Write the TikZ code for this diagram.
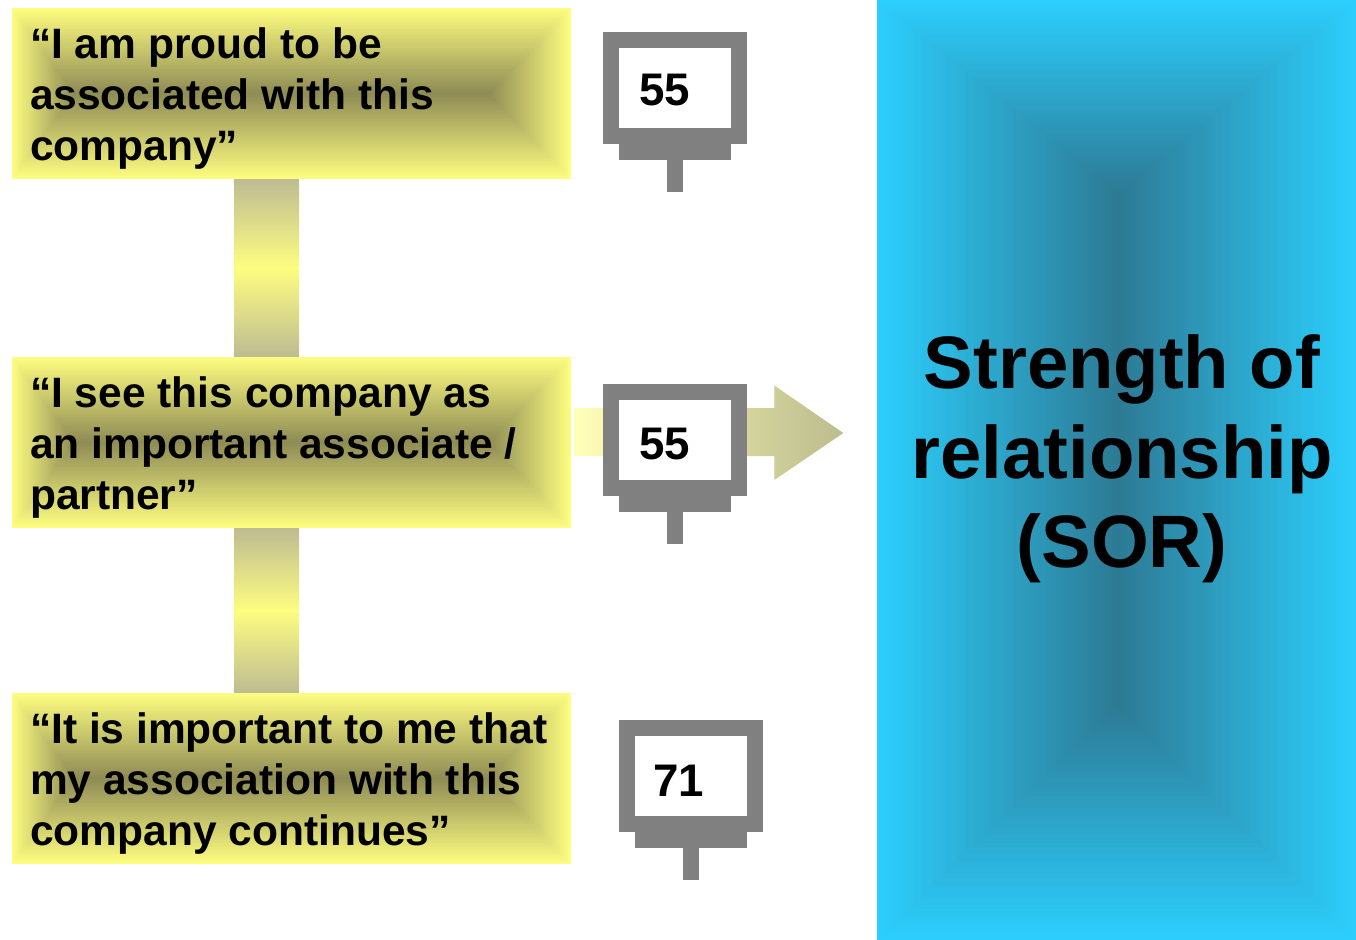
\documentclass[tikz,border=0pt]{standalone}
\usepackage{fontspec}
\setmainfont{Liberation Sans}
\usepackage{xcolor}
\usepackage{tikz}
\usetikzlibrary{arrows.meta, positioning, calc}
\definecolor{boxlight}{HTML}{FDFD80}
\definecolor{boxdark}{HTML}{8E8B55}
\definecolor{barend}{HTML}{BDBC92}
\definecolor{panellight}{HTML}{2CCEFD}
\definecolor{paneldark}{HTML}{2D7A94}
\definecolor{arrowstart}{HTML}{FFFFB8}
\definecolor{arrowend}{HTML}{BCBC8E}
\definecolor{gaugegray}{HTML}{808080}
% nested rectangles: insets left/right/top/bottom, inner colour, outer colour
\newcommand{\gradsteps}[6]{%
  \foreach \i in {0,...,60} {
    \pgfmathsetmacro{\stepfrac}{\i/60}
    \pgfmathsetmacro{\steppct}{100*\stepfrac}
    \fill[#5!\steppct!#6]
      ($(path picture bounding box.north west)+(#1*\stepfrac,#3*\stepfrac)$) rectangle
      ($(path picture bounding box.south east)+(-#2*\stepfrac,-#4*\stepfrac)$);
  }}
\tikzset{
  stmtbox/.style={minimum width=11.18cm, minimum height=3.42cm, inner xsep=0.36cm,
    inner ysep=0pt, text width=10.46cm, align=flush left, font=\fontsize{24.2}{28.9}\selectfont\bfseries,
    execute at begin node={\rule{0pt}{23pt}},
    path picture={\gradsteps{62}{82}{85}{85}{boxdark}{boxlight}}},
  sorbox/.style={minimum width=9.58cm, minimum height=18.8cm, inner sep=0pt,
    path picture={\gradsteps{240}{236}{192}{233}{paneldark}{panellight}}},
  sorlabel/.style={align=center, inner sep=0pt, font=\fontsize{42.3}{51}\selectfont\bfseries},
  linkbar/.style={top color=barend, bottom color=barend, middle color=boxlight},
  scorenum/.style={font=\fontsize{26}{30}\selectfont\bfseries}
}
\begin{document}
\begin{tikzpicture}[x=0.02cm, y=-0.02cm]
        \useasboundingbox (0,0) rectangle (1356,940);
        % statements
        \node[stmtbox] (stmtA) at (291.5,93.5)
          {“I am proud to be\\associated with this\\company”};
        \node[stmtbox] (stmtB) at (291.5,442.5)
          {“I see this company as\\an important associate /\\partner”};
        \node[stmtbox] (stmtC) at (291.5,778.5)
          {“It is important to me that\\my association with this\\company continues”};
        \node[sorbox] (sor) at (1116.5,470) {};
        \node[sorlabel] (sortext) at (1122,459) {Strength of\\relationship\\(SOR)};
        % bars between the statements
        \shade[linkbar] ([xshift=-1.15cm]stmtA.south) rectangle ([xshift=0.15cm]stmtB.north);
        \shade[linkbar] ([xshift=-1.15cm]stmtB.south) rectangle ([xshift=0.15cm]stmtC.north);
        % arrow behind the middle gauge
        \shade[left color=arrowstart, right color=arrowend]
          ($(stmtB.east)+(3,-34.5)$) -- ($(stmtB.east)+(203,-34.5)$)
          -- ($(stmtB.east)+(203,-57)$) -- ($(stmtB.east)+(272,-9.5)$)
          -- ($(stmtB.east)+(203,37.5)$) -- ($(stmtB.east)+(203,13.5)$)
          -- ($(stmtB.east)+(3,13.5)$) -- cycle;
        % gauges
        \foreach \gx/\gy/\nx/\ny/\gval/\gname in
          {603/32/665/90/55/scoreA, 603/384/665/444/55/scoreB, 619/720/679/781/71/scoreC} {
          \fill[white] (\gx+16,\gy+16) rectangle ++(112,80);
          \fill[gaugegray] (\gx,\gy) rectangle ++(16,112);
          \fill[gaugegray] (\gx+128,\gy) rectangle ++(16,112);
          \fill[gaugegray] (\gx+16,\gy) rectangle ++(112,16);
          \fill[gaugegray] (\gx+16,\gy+96) rectangle ++(112,32);
          \fill[gaugegray] (\gx+64,\gy+128) rectangle ++(16,32);
          \node[scorenum] (\gname) at (\nx,\ny) {\gval};
        }
      \end{tikzpicture}
\end{document}
